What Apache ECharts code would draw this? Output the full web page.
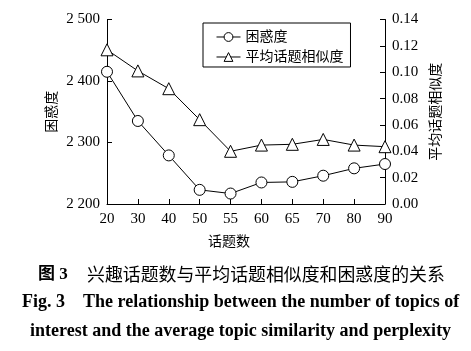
<!DOCTYPE html>
<html>
<head>
<meta charset="utf-8">
<script src="https://cdn.jsdelivr.net/npm/echarts@6/dist/echarts.min.js"></script>
<style>
  html, body { margin: 0; padding: 0; background: #fff; }
  #chart { width: 471px; height: 351px; }
</style>
</head>
<body>
<div id="chart"></div>
<script>
    // data
    var topicCounts = ['20', '30', '40', '50', '55', '60', '65', '70', '80', '90'];
    var perplexity = [2415, 2335, 2279, 2223, 2217, 2235, 2236, 2246, 2258, 2265];
    var similarity = [0.117, 0.101, 0.0875, 0.064, 0.040, 0.0447, 0.0453, 0.049, 0.0447, 0.0435];

    var serif = '"Liberation Serif", "Times New Roman", "Noto Sans CJK SC", serif';
    var cjk = '"Liberation Serif", "Noto Sans CJK SC", sans-serif';

    var chart = echarts.init(document.getElementById('chart'), null, {renderer: 'canvas'});

    var option = {
        backgroundColor: '#fff',
        animation: false,
        grid: {
            left: 107,
            right: 86,
            top: 19.5,
            bottom: 147
        },
        legend: {
            orient: 'vertical',
            left: 203,
            top: 23,
            borderColor: '#000',
            borderWidth: 1,
            padding: [7, 7, 3, 13],
            itemGap: 6,
            itemWidth: 24,
            itemHeight: 11,
            itemStyle: { borderWidth: 1 },
            lineStyle: { width: 1 },
            textStyle: {
                fontFamily: cjk,
                fontSize: 14,
                color: '#000'
            },
            data: ['困惑度', '平均话题相似度']
        },
        xAxis: {
            type: 'category',
            boundaryGap: false,
            data: topicCounts,
            name: '话题数',
            nameLocation: 'middle',
            nameGap: 31,
            nameTextStyle: {
                fontFamily: cjk,
                fontSize: 14,
                color: '#000',
                padding: [0, 34, 0, 0]
            },
            axisLine: { lineStyle: { color: '#000', width: 1 } },
            axisTick: { inside: true, length: 5, lineStyle: { color: '#000' } },
            axisLabel: {
                fontFamily: serif,
                fontSize: 15,
                color: '#000',
                margin: 8
            },
            splitLine: { show: false }
        },
        yAxis: [{
            type: 'value',
            position: 'left',
            min: 2200,
            max: 2500,
            interval: 100,
            name: '困惑度',
            nameLocation: 'middle',
            nameRotate: 90,
            nameGap: 48,
            nameMoveOverlap: false,
            nameTextStyle: {
                fontFamily: cjk,
                fontSize: 14,
                color: '#000'
            },
            axisLine: { show: true, lineStyle: { color: '#000', width: 1 } },
            axisTick: { show: true, inside: true, length: 5, lineStyle: { color: '#000' } },
            axisLabel: {
                fontFamily: serif,
                fontSize: 15,
                color: '#000',
                margin: 7,
                formatter: function (v) {
                    var s = String(v);
                    return s.slice(0, 1) + ' ' + s.slice(1);
                }
            },
            splitLine: { show: false }
        }, {
            type: 'value',
            position: 'right',
            min: 0,
            max: 0.14,
            interval: 0.02,
            name: '平均话题相似度',
            nameLocation: 'middle',
            nameRotate: 90,
            nameGap: 43,
            nameTextStyle: {
                fontFamily: cjk,
                fontSize: 14,
                color: '#000'
            },
            axisLine: { show: true, lineStyle: { color: '#000', width: 1 } },
            axisTick: { show: true, inside: true, length: 5, lineStyle: { color: '#000' } },
            axisLabel: {
                fontFamily: serif,
                fontSize: 15,
                color: '#000',
                margin: 7,
                formatter: function (v) {
                    return v.toFixed(2);
                }
            },
            splitLine: { show: false }
        }],
        series: [{
            name: '困惑度',
            type: 'line',
            yAxisIndex: 0,
            data: perplexity,
            symbol: 'circle',
            symbolSize: 11,
            lineStyle: { color: '#000', width: 1 },
            itemStyle: { color: '#fff', borderColor: '#000', borderWidth: 1 }
        }, {
            name: '平均话题相似度',
            type: 'line',
            yAxisIndex: 1,
            data: similarity,
            symbol: 'triangle',
            symbolSize: 12,
            lineStyle: { color: '#000', width: 1 },
            itemStyle: { color: '#fff', borderColor: '#000', borderWidth: 1 }
        }],
        graphic: [{
            type: 'text',
            left: 38,
            top: 266,
            style: {
                text: '图 3',
                font: 'bold 17px "Liberation Serif", "Noto Sans CJK SC", serif',
                fill: '#000'
            }
        }, {
            type: 'text',
            left: 87,
            top: 265,
            style: {
                text: '兴趣话题数与平均话题相似度和困惑度的关系',
                font: '17.9px "Noto Sans CJK SC", sans-serif',
                fill: '#000'
            }
        }, {
            type: 'text',
            left: 22,
            top: 293,
            style: {
                text: 'Fig. 3    The relationship between the number of topics of',
                font: 'bold 18px "Liberation Serif", "Times New Roman", serif',
                fill: '#000'
            }
        }, {
            type: 'text',
            left: 30,
            top: 322,
            style: {
                text: 'interest and the average topic similarity and perplexity',
                font: 'bold 18px "Liberation Serif", "Times New Roman", serif',
                fill: '#000'
            }
        }]
    };

    chart.setOption(option);
</script>
</body>
</html>
